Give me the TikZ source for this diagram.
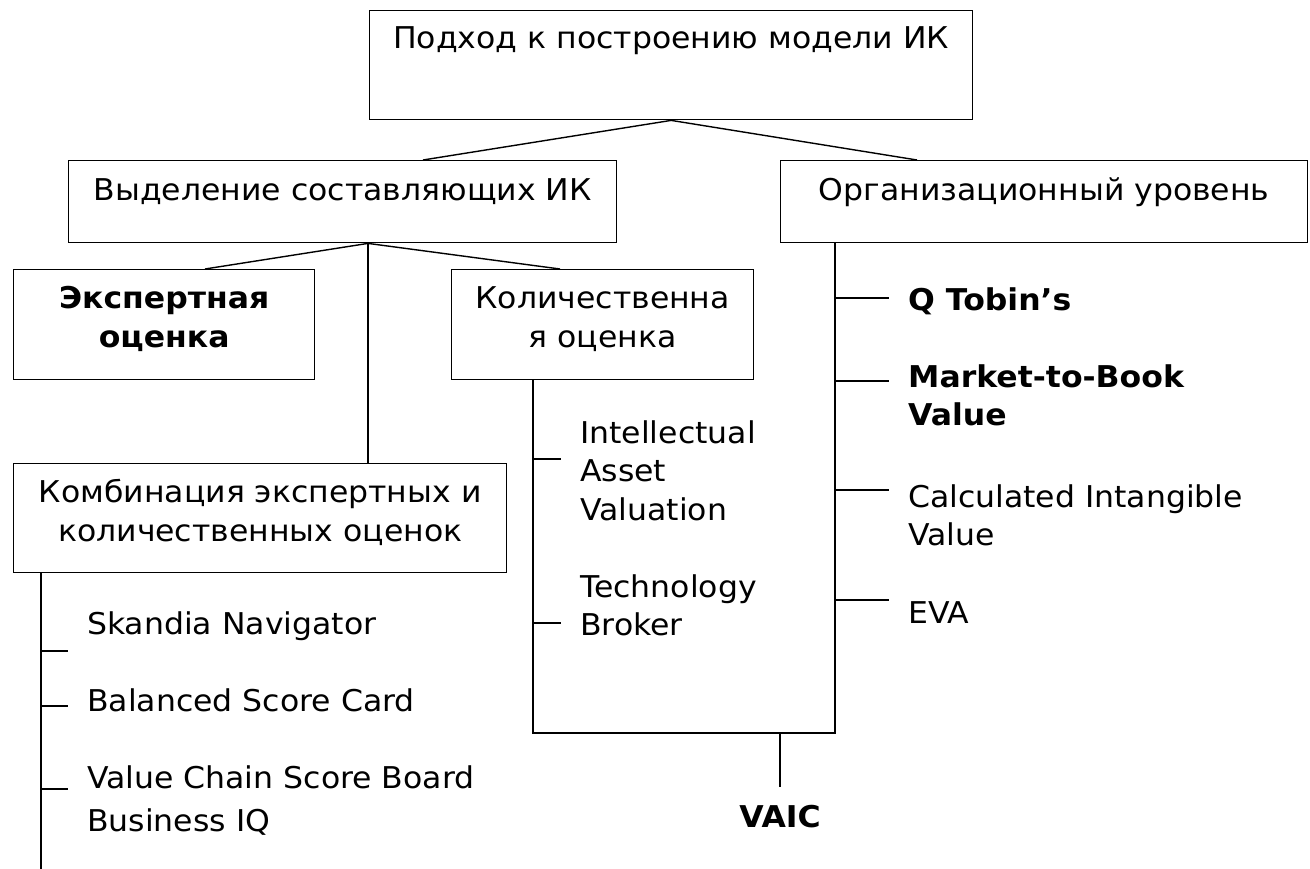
\documentclass[tikz,border=0pt]{standalone}
\usepackage{fontspec}
\setmainfont{DejaVu Sans}[FakeStretch=1.05]
\usepackage{tikz}
\tikzstyle{box} = [draw,line width=1.4pt,inner sep=0pt,anchor=north west,font=\fontsize{30}{38.5}\selectfont]
\tikzstyle{item} = [inner sep=0pt,anchor=base west,font=\fontsize{30}{38.5}\selectfont]
\tikzstyle{link} = [line width=1.4pt]
\newcommand{\boxtext}[4]{\parbox[c][#2][t]{#1}{\centering\rule{0pt}{#3}#4\par}}
\newcommand{\itemtext}[1]{\parbox[t]{400pt}{\raggedright #1}}

\begin{document}
\begin{tikzpicture}[x=1pt,y=-1pt]
      \useasboundingbox (0,0) rectangle (1310,869);
      \node[box](top) at (369,10){\boxtext{603pt}{109pt}{38pt}{Подход к построению модели ИК}};
      \node[box](vyd) at (68,160){\boxtext{548pt}{82pt}{40pt}{Выделение составляющих ИК}};
      \node[box](org) at (780,160){\boxtext{527pt}{82pt}{40pt}{Организационный уровень}};
      \node[box](exp) at (13,269){\boxtext{301pt}{110pt}{39pt}{\bfseries Экспертная\\оценка}};
      \node[box](kol) at (451,269){\boxtext{302pt}{110pt}{39pt}{Количественна\\я оценка}};
      \node[box](komb) at (13,463){\boxtext{493pt}{109pt}{39pt}{Комбинация экспертных и\\количественных оценок}};
      % methods
      \node[item](iav) at (580,443){\itemtext{Intellectual\\Asset\\Valuation}};
      \node[item](tb) at (580,597){\itemtext{Technology\\Broker}};
      \node[item](qt) at (908,310){\itemtext{\bfseries Q Tobin’s}};
      \node[item](mtb) at (908,387){\itemtext{\bfseries Market-to-Book\\Value}};
      \node[item](civ) at (908,507){\itemtext{Calculated Intangible\\Value}};
      \node[item](eva) at (908,623){\itemtext{EVA}};
      \node[item](skn) at (87,634){\itemtext{Skandia Navigator}};
      \node[item](bsc) at (87,711){\itemtext{Balanced Score Card}};
      \node[item](vcs) at (87,788){\itemtext{Value Chain Score Board}};
      \node[item](biq) at (87,831){\itemtext{Business IQ}};
      \node[item,anchor=base](vaic) at (780,827){\bfseries VAIC};
      % tree
      \coordinate(vydfoot) at ([xshift=300pt]vyd.south west);
      \draw[link](top.south)--([xshift=355pt]vyd.north west);
      \draw[link](top.south)--([xshift=137pt]org.north west);
      \draw[link](vydfoot)--([xshift=192pt]exp.north west);
      \draw[link](vydfoot)--([xshift=109pt]kol.north west);
      \draw[link](vydfoot)--([xshift=355pt]komb.north west);
      \coordinate(qtrunk) at ([xshift=82pt]kol.south west);
      \coordinate(otrunk) at ([xshift=55pt]org.south west);
      \coordinate(ctrunk) at ([xshift=28pt]komb.south west);
      \coordinate(ubot) at (780,733);
      \draw[link](qtrunk)--(qtrunk |- ubot)--(otrunk |- ubot)--(otrunk);
      \draw[link,shorten >=18pt](ubot)--(vaic.north);
      \draw[link](ctrunk)--(ctrunk |- 0,869);
      \foreach \y in {298,381,490,600} \draw[link](otrunk |- 0,\y)--++(54,0);
      \foreach \y in {459,623} \draw[link](qtrunk |- 0,\y)--++(28,0);
      \foreach \y in {651,706,789} \draw[link](ctrunk |- 0,\y)--++(27,0);
    \end{tikzpicture}
\end{document}
